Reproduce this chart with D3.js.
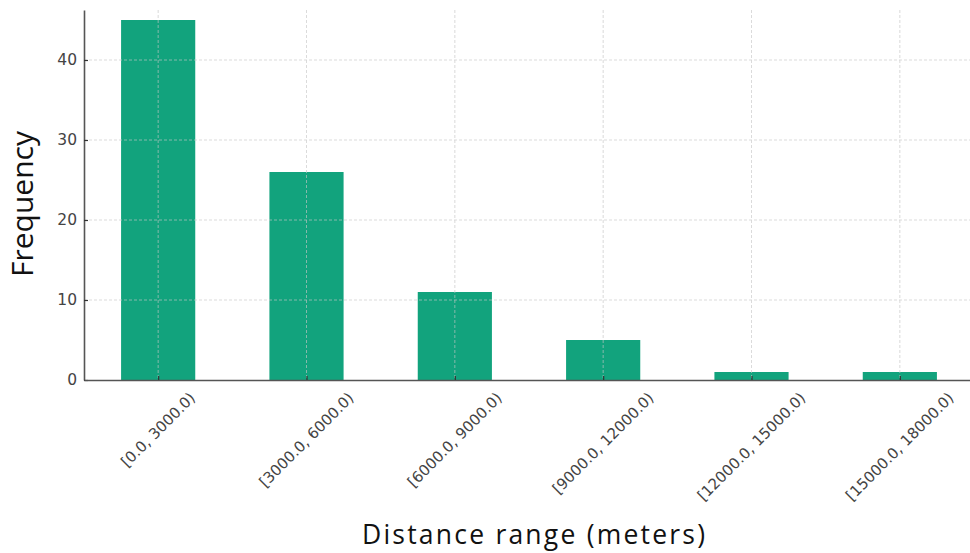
<!DOCTYPE html>
<html>
<head>
<meta charset="utf-8">
<script src="https://cdn.jsdelivr.net/npm/d3@7"></script>
<style>
  html, body { margin: 0; padding: 0; background: #fff; }
  svg { display: block; }
</style>
</head>
<body>
<svg id="chart" width="970" height="553"></svg>
<script>
// Histogram of trip distances, binned in 3000 m ranges
const categories = [
  "[0.0, 3000.0)", "[3000.0, 6000.0)", "[6000.0, 9000.0)",
  "[9000.0, 12000.0)", "[12000.0, 15000.0)", "[15000.0, 18000.0)"
];
const frequencies = [45, 26, 11, 5, 1, 1];
const yTicks = [0, 10, 20, 30, 40];
const xTitle = "Distance range (meters)";
const yTitle = "Frequency";

const svg = d3.select("#chart");
const plot = { left: 84, right: 974, top: 10, bottom: 380 };

const x = d3.scaleLinear().domain([-0.5, categories.length - 0.5]).range([plot.left, plot.right]);
const y = d3.scaleLinear().domain([0, 46.25]).range([plot.bottom, plot.top]);
const barWidth = x(0.5) - x(0);

// bars
svg.append("g").selectAll("rect")
  .data(frequencies)
  .join("rect")
  .attr("x", (d, i) => x(i) - barWidth / 2)
  .attr("y", d => y(d))
  .attr("width", barWidth)
  .attr("height", d => y(0) - y(d))
  .attr("fill", "#12a37d");

// dashed grid drawn over the bars
const grid = svg.append("g").attr("stroke", "#c8c8c8").attr("stroke-width", 0.8)
  .attr("stroke-dasharray", "3,2").attr("opacity", 0.8);
grid.selectAll("line.h").data(yTicks.filter(t => t > 0)).join("line")
  .attr("x1", plot.left).attr("x2", plot.right)
  .attr("y1", d => y(d)).attr("y2", d => y(d));
grid.selectAll("line.v").data(categories).join("line")
  .attr("x1", (d, i) => x(i)).attr("x2", (d, i) => x(i))
  .attr("y1", plot.top).attr("y2", plot.bottom);

// y axis
const yAxis = d3.axisLeft(y).tickValues(yTicks).tickSizeInner(-4).tickSizeOuter(0).tickPadding(7);
const gy = svg.append("g").attr("transform", `translate(${plot.left},0)`).call(yAxis);
gy.select(".domain").attr("stroke", "#555").attr("stroke-width", 1.6);
gy.selectAll(".tick line").attr("stroke", "#333").attr("stroke-width", 1.2);
gy.selectAll(".tick text").attr("font-family", "DejaVu Sans").attr("font-size", 15.5).attr("fill", "#444");

// x axis
const xAxis = d3.axisBottom(x).tickValues(d3.range(categories.length)).tickFormat(() => "")
  .tickSizeInner(-4).tickSizeOuter(0);
const gx = svg.append("g").attr("transform", `translate(0,${plot.bottom})`).call(xAxis);
gx.select(".domain").attr("stroke", "#555").attr("stroke-width", 1.6);
gx.selectAll(".tick line").attr("stroke", "#333").attr("stroke-width", 1.2);

// rotated category labels, top of bounding box aligned just under the axis
const labels = svg.append("g");
categories.forEach((c, i) => {
  const g = labels.append("g");
  g.append("text")
    .text(c)
    .attr("text-anchor", "middle")
    .attr("dominant-baseline", "central")
    .attr("transform", "rotate(-45)")
    .attr("font-family", "DejaVu Sans")
    .attr("font-size", 15)
    .attr("fill", "#444");
  const r = g.node().getBoundingClientRect();
  g.attr("transform", `translate(${x(i)},${plot.bottom + 9 + r.height / 2})`);
});

// axis titles
svg.append("text")
  .attr("x", 362).attr("y", 544)
  .attr("textLength", 343)
  .attr("lengthAdjust", "spacing")
  .attr("font-family", "Open Sans")
  .attr("font-size", 26.5)
  .attr("fill", "#111")
  .text(xTitle);

svg.append("text")
  .attr("transform", "translate(33,204) rotate(-90)")
  .attr("text-anchor", "middle")
  .attr("font-family", "Open Sans")
  .attr("font-size", 30)
  .attr("fill", "#111")
  .text(yTitle);
</script>
</body>
</html>
